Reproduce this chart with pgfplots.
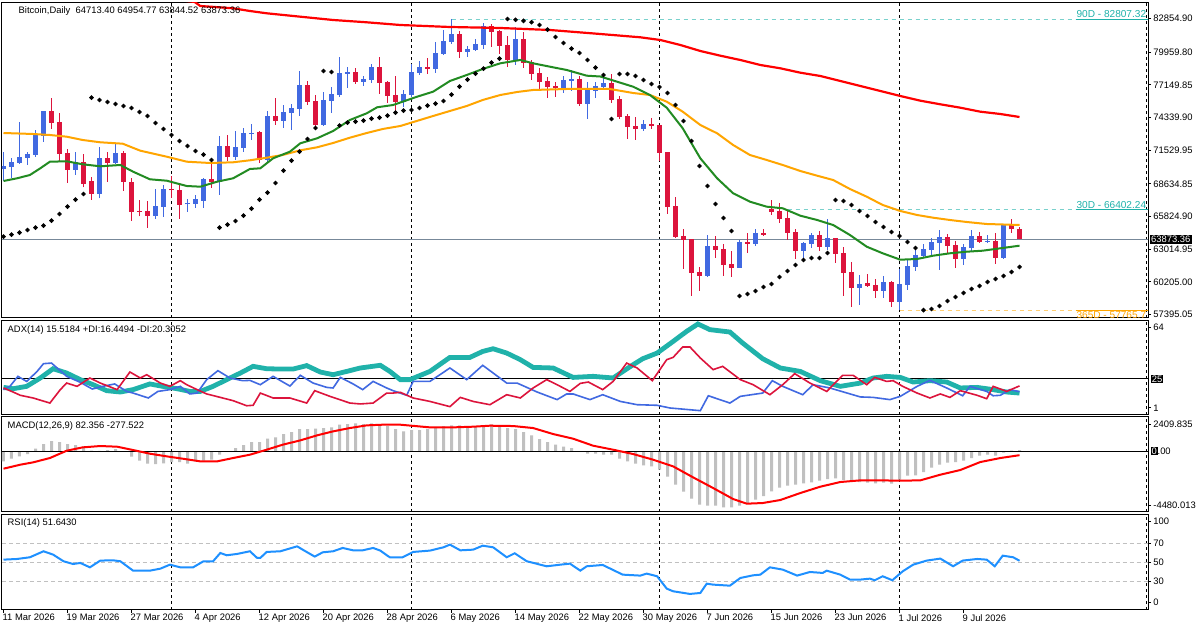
\documentclass[border=0pt]{standalone}
\usepackage{fontspec}
\setmainfont{Liberation Sans}
\usepackage{pgfplots}
\usepackage{pgfplotstable}
\pgfplotsset{compat=1.18}
\definecolor{bull}{HTML}{4169E1}
\definecolor{bear}{HTML}{DC143C}
\definecolor{maRed}{HTML}{FF0000}
\definecolor{maOrange}{HTML}{FFA500}
\definecolor{maGreen}{HTML}{228B22}
\definecolor{curline}{HTML}{778899}
\definecolor{adxc}{HTML}{20B2AA}
\definecolor{rsic}{HTML}{1E90FF}
\definecolor{histc}{HTML}{C0C0C0}
\definecolor{hilab}{HTML}{20B2AA}

\pgfplotstableread{
d O H L C t
0 69908 71399 68876 70166 1
1 70080 70825 69163 70510 1
2 70424 73979 70338 70940 1
3 70854 71399 70252 71227 1
4 71112 73233 70969 72832 1
5 72775 74896 72259 74896 1
6 74896 76043 73348 73893 0
7 73950 74753 70539 71227 0
8 71284 71628 68733 69851 0
9 69851 71399 69392 70510 1
10 70510 71169 68331 68618 0
11 68876 69220 67242 67787 0
12 67787 71800 67385 70854 1
13 70854 71399 68819 70424 0
14 70424 72087 70309 71284 1
15 71284 71485 68016 68819 0
16 68819 69163 65436 66210 0
17 66296 67242 65837 66210 0
18 66296 67156 64863 65895 0
19 65895 68188 65637 66755 1
20 66669 68532 65809 68188 1
21 68217 69306 67443 68073 0
22 68102 68618 65637 66812 0
23 66869 67328 66239 66955 1
24 66927 67672 66583 67328 1
25 67156 69163 66583 69077 1
26 69048 70367 68303 68819 0
27 68761 72746 67672 71886 1
28 71886 72832 70596 70940 0
29 70940 73176 70682 71800 1
30 71714 73405 71370 73004 1
31 72947 73778 72402 73004 1
32 73090 73176 70424 70682 0
33 70682 74896 70539 74466 1
34 74466 76014 73692 74036 0
35 74036 75412 73434 74810 1
36 74724 75498 73262 75154 1
37 75068 78336 74466 77132 1
38 77132 77476 75412 75670 0
39 75756 76272 73262 73692 0
40 73692 76501 73606 75842 1
41 75756 76960 74724 76358 1
42 76272 79540 76100 78164 1
43 78107 78680 76874 78250 1
44 78250 78594 77218 77390 0
45 77390 77906 77046 77648 1
46 77562 78938 77304 78680 1
47 78680 79540 76358 77304 0
48 77390 77476 75584 76186 0
49 76272 77906 74896 75670 0
50 75670 76702 75240 76358 1
51 76272 78938 76100 78250 1
52 78164 79196 77992 78680 1
53 78680 79454 78078 78537 0
54 78508 80830 78164 79884 1
55 79798 81862 79712 80916 1
56 80830 82807.32 80658 81518 1
57 81518 81776 79454 79970 0
58 79970 80486 79540 80228 1
59 80142 81088 80056 80658 1
60 80572 82464 80228 82206 1
61 82206 82378 80400 81690 0
62 81776 81862 79798 80486 0
63 80572 81346 78680 79282 0
64 79282 82120 78852 81088 1
65 81088 81690 78594 79024 0
66 79110 79282 77562 78078 0
67 78164 78594 76702 77390 0
68 77476 77820 76014 76960 0
69 77046 77390 76100 76874 0
70 76788 77906 76444 77562 1
71 77476 78422 76616 77648 1
72 77648 77906 75326 75498 0
73 75498 77390 74208 76702 1
74 76616 77390 76014 77046 1
75 76960 77820 76874 77304 1
76 77304 78078 75584 75842 0
77 75928 76186 74208 74380 0
78 74466 74638 72488 73520 0
79 73606 74380 72402 73348 0
80 73348 74122 73176 73778 1
81 73778 74294 73348 73606 0
82 73692 73692 70625 71313 0
83 71370 71370 66038 66640 0
84 66726 67500 63974 64060 0
85 64146 64748 61308 63802 0
86 63888 63888 58986 60964 0
87 61050 61480 59416 60706 0
88 60706 64232 60620 63286 1
89 63286 64146 62254 62942 0
90 63028 63458 60706 61652 0
91 61738 62856 60620 61394 0
92 61394 63802 61394 63630 1
93 63630 64404 62684 63458 0
94 63458 64748 63286 64404 1
95 64404 64748 64146 64232 0
96 66468 67242 65952 66210 0
97 66296 66984 65264 65608 0
98 65694 66402.24 63802 64404 0
99 64490 64748 62168 62856 0
100 62856 63630 62168 63544 1
101 63458 64404 63114 64232 1
102 64232 64576 62856 63200 0
103 63200 65608 62942 63974 1
104 63974 63974 61824 62598 0
105 62684 63200 58986 60964 0
106 61050 61910 58040 59674 0
107 59674 60792 58212 60018 1
108 60104 60878 59760 59846 0
109 59932 60448 58814 59416 0
110 59416 60706 58814 60190 1
111 60190 60276 58040 58470 0
112 58470 61308 57765.7 60018 1
113 59932 62082 59502 61566 1
114 61480 63286 61136 62512 1
115 62426 63458 62340 63028 1
116 62942 63974 62340 63630 1
117 63544 64662 61222 64060 1
118 64060 64318 62598 63286 0
119 63372 63716 61394 62168 0
120 62168 63458 61652 63200 1
121 63114 64662 62770 64146 1
122 64146 64490 63544 63630 0
123 63630 64232 63544 63716 1
124 63716 64404 61738 62254 0
125 62254 65092 62168 65092 1
126 65092 65608 64404 64713 0
127 64713.40 64954.77 63844.52 63873.36 0
}\candles

\pgfplotstableread{
d p
0 64088
1 64260
2 64432
3 64662
4 64862
5 65034
6 65464
7 66038
8 66668
9 67270
10 67758
11 76043
12 75842
13 75670
14 75498
15 75326
16 75154
17 74810
18 74466
19 73864
20 73348
21 72832
22 72316
23 71886
24 71456
25 71141
26 70682
27 64863
28 65121
29 65436
30 65895
31 66496
32 67270
33 67873
34 68704
35 69764
36 70625
37 71399
38 72488
39 73434
40 78336
41 78250
42 73650
43 73893
44 73979
45 74065
46 74237
47 74323
48 74495
49 74753
50 74925
51 74982
52 75154
53 75355
54 75527
55 75756
56 76301
57 76989
58 77591
59 78107
60 78537
61 79053
62 79397
63 82807
64 82740
65 82650
66 82530
67 82292
68 81891
69 81260
70 80744
71 80257
72 79884
73 79282
74 78623
75 77992
76 74208
77 78078
78 78078
79 77906
80 77562
81 77218
82 76960
83 76444
84 75412
85 74036
86 72316
87 70166
88 68446
89 66898
90 65694
91 64576
92 58986
93 59158
94 59416
95 59760
96 60018
97 60620
98 61136
99 61652
100 62082
101 62254
102 62254
103 62684
104 67242
105 67156
106 66812
107 66296
108 65866
109 65350
110 64920
111 64490
112 64146
113 63630
114 63114
115 57766
116 57868
117 58126
118 58556
119 58900
120 59244
121 59588
122 59846
123 60190
124 60448
125 60706
126 61050
127 61480
}\sar

\pgfplotstableread{
d p
20 84600
23.9 84270
24.6 83926
28.7 83728
30.8 83496
32.9 83298
37.1 83006
41.2 82722
45.4 82524
49.6 82292
55.8 82120
62.1 82034
68.3 81862
74.6 81518
79.6 81234
82.1 81002
84.6 80572
87.1 80056
89.6 79652
92.1 79282
94.6 78852
97.1 78568
99.6 78190
102.1 77906
104.6 77476
107.1 77046
109.6 76616
112.1 76186
114.6 75782
117.1 75472
119.6 75180
122.1 74836
124.6 74638
127 74380
}\mared

\pgfplotstableread{
d p
0 73004
3.7 72918
5.8 72832
7.9 72686
9.9 72402
12.1 72204
14.9 72084
17.1 71482
20.4 70966
22.9 70536
25.8 70424
28.7 70484
30.8 70656
32.9 70880
34.9 71112
37.1 71516
39.2 71774
41.2 72144
43.3 72600
45.4 73004
47.4 73348
49.6 73606
53.7 74466
55.8 74896
57.9 75326
59.9 75842
62.1 76272
64.2 76530
66.2 76702
70.4 76788
75.8 76788
78.7 76444
80.8 76272
82.9 75696
84.9 74836
87.1 73692
89.2 72978
91.2 71972
93.3 71112
95.4 70682
97.4 70252
99.6 69736
101.7 69332
103.7 68962
105.8 68188
107.9 67526
109.9 66812
112.1 66296
114.2 65952
116.2 65720
118.3 65522
120.4 65350
122.9 65178
127 65092
}\maorange

\pgfplotstableread{
d p
0 68876
1.7 69108
3.3 69392
4.6 69968
5.8 70536
7.9 70570
9.9 70312
12.1 70140
14.6 70252
16.2 69676
18.3 69022
20.4 68902
22.9 68446
24.6 68386
26.7 68816
28.7 69108
30.8 69908
32.1 69968
33.7 70828
35.8 71396
37.1 72118
39.2 72548
41.2 73176
43.3 74122
45.4 74698
46.7 75214
48.7 75412
51.7 76126
53.7 76556
55.8 77476
57.9 77992
59.9 78508
62.1 78998
64.6 79282
66.2 78998
68.3 78706
70.4 78422
72.9 77932
74.6 77863
78.7 76986
80.8 76272
82.9 75180
84.9 73408
87.1 70828
89.2 69108
91.2 67818
93.3 67096
95.4 66666
97.4 66528
99.6 65892
101.7 65522
103.7 65092
105.8 64232
107.9 63226
109.9 62658
112.1 62108
114.2 62168
116.2 62452
118.3 62658
120.4 62796
122.4 62882
124.6 63088
127 63312
}\magreen

\pgfplotstableread{
d v
0 19.3
1.2 18.4
2.9 20.0
4.6 25.6
6.2 31.8
7.9 28.9
9.6 24.5
11.2 21.1
12.9 17.1
14.6 16.2
16.2 17.8
18.3 21.6
19.9 20.0
21.7 18.4
23.3 16.6
24.6 16.6
26.2 20.0
27.9 24.5
29.6 28.9
31.2 33.4
32.9 31.8
34.6 31.6
36.2 31.6
37.9 33.9
39.6 29.6
41.2 27.8
42.9 30.0
44.6 32.3
47.1 34.1
48.3 30.0
49.6 24.5
50.8 24.5
53.3 30.0
55.8 39.4
58.3 39.4
59.9 43.4
61.2 45.2
62.9 42.3
64.6 37.9
66.2 32.7
68.7 32.3
71.2 26.0
73.7 26.7
76.2 25.6
78.7 34.5
79.9 38.5
81.7 42.3
83.7 50.1
85.4 56.9
86.8 61.8
88.3 58.0
90.8 56.4
92.4 49.0
94.9 38.5
97.1 32.3
99.6 30.0
102.1 23.8
104.6 20.0
107.1 22.2
108.7 25.6
110.4 26.7
112.1 26.0
113.7 22.9
115.8 23.8
117.9 22.9
119.6 18.9
121.7 19.3
123.7 17.8
125.4 16.2
127 15.5
}\adx

\pgfplotstableread{
d v
0 17.8
0.8 20.0
1.8 26.7
2.9 23.3
4.2 30.0
5.0 35.2
6.0 35.6
7.9 26.7
9.6 22.7
11.1 18.2
12.4 20.0
13.9 21.6
15.4 16.6
16.2 15.5
18.1 12.2
19.3 16.6
20.8 17.8
22.1 20.0
23.3 14.9
24.2 15.5
25.4 24.5
26.8 30.5
28.3 25.6
29.9 23.8
30.8 24.0
32.1 21.1
33.7 26.7
35.8 20.2
37.1 27.4
38.7 22.2
40.4 19.3
41.2 18.9
42.1 26.0
43.7 21.6
44.9 17.8
46.2 23.3
47.9 18.9
48.7 17.1
50.4 14.0
51.2 23.3
53.3 23.3
55.8 32.3
57.9 24.5
59.9 34.1
62.9 22.2
64.2 22.2
66.7 16.2
69.2 11.1
70.4 14.9
71.2 14.9
73.3 11.1
74.9 14.4
77.1 9.9
79.2 7.7
81.7 7.3
83.3 5.5
87.1 3.7
88.1 13.7
90.8 8.8
92.1 13.3
94.9 15.5
96.1 23.8
97.4 20.0
99.9 14.4
101.2 21.1
103.3 18.9
107.1 12.9
108.7 12.6
110.8 11.1
112.1 13.3
114.2 20.0
115.8 24.0
117.9 18.9
119.9 13.7
120.8 20.0
122.9 16.6
123.7 13.7
124.6 14.0
125.8 17.8
127 16.4
}\pdi

\pgfplotstableread{
d v
0 18.9
1.2 16.2
2.1 14.0
3.7 12.2
5.8 8.8
7.1 17.8
7.9 22.2
9.2 20.0
10.8 25.6
12.1 22.2
14.2 17.8
15.8 29.6
17.1 25.6
17.9 27.8
19.6 22.2
20.8 20.0
22.1 23.8
22.9 21.1
24.2 17.8
25.4 14.9
27.1 12.6
28.7 10.4
30.4 7.0
31.2 7.3
32.1 15.5
33.7 12.2
35.8 12.2
37.9 8.8
38.9 17.1
40.8 13.3
43.3 8.8
44.6 8.2
46.2 8.8
47.9 15.5
48.7 15.5
49.6 16.0
51.2 12.2
53.3 9.9
55.8 6.4
57.1 12.6
58.7 9.9
60.8 7.7
62.9 14.4
64.6 12.2
66.2 18.9
67.9 24.5
69.2 21.1
70.8 16.6
72.1 22.0
73.1 22.9
74.9 17.8
76.2 23.3
77.9 35.6
79.2 32.3
81.1 23.8
82.9 37.9
83.7 39.4
84.9 46.4
85.8 46.4
87.1 39.0
88.7 31.2
89.9 33.4
92.1 24.5
93.7 21.1
95.8 14.4
97.4 21.1
98.9 28.5
100.8 22.2
102.9 16.6
104.9 27.4
106.2 27.4
107.9 21.1
108.9 26.0
110.4 23.3
111.2 23.8
112.4 20.0
114.2 15.5
115.8 12.2
117.1 14.9
118.3 12.6
119.6 17.1
121.7 14.0
122.9 11.7
123.7 20.0
125.4 16.6
127 20.3
}\mdi

\pgfplotstableread{
d v
0 -726
1 -532
2 -363
3 -194
4 194
5 532
6 750
7 678
8 532
9 460
10 363
11 60
12 30
13 97
14 169
15 -40
16 -387
17 -678
18 -895
19 -920
20 -871
21 -774
22 -774
23 -895
24 -726
25 -678
26 -605
27 -242
28 -20
29 242
30 460
31 678
32 678
33 920
34 1016
35 1258
36 1404
37 1621
38 1621
39 1646
40 1694
41 1742
42 1936
43 1984
44 2033
45 1984
46 2033
47 1936
48 1839
49 1621
50 1452
51 1549
52 1549
53 1621
54 1694
55 1839
56 1888
57 1888
58 1815
59 1815
60 1888
61 1960
62 1839
63 1694
64 1621
65 1404
66 1162
67 895
68 678
69 484
70 339
71 242
72 20
73 -169
74 -169
75 -242
76 -242
77 -532
78 -726
79 -895
80 -1016
81 -1089
82 -1331
83 -1839
84 -2420
85 -2928
86 -3436
87 -3872
88 -3945
89 -3945
90 -4066
91 -4066
92 -3945
93 -3751
94 -3509
95 -3243
96 -2904
97 -2638
98 -2493
99 -2420
100 -2323
101 -2251
102 -2130
103 -2009
104 -1960
105 -2081
106 -2178
107 -2226
108 -2275
109 -2323
110 -2275
111 -2347
112 -2057
113 -1767
114 -1742
115 -1500
116 -1186
117 -968
118 -823
119 -774
120 -678
121 -484
122 -315
123 -242
124 -315
125 -97
126 48
127 82.356
}\macdh

\pgfplotstableread{
d v
0 -1258
2.1 -968
3.7 -799
5.8 -484
7.9 48
9.9 290
12.1 387
14.2 339
16.2 97
18.3 -169
20.4 -363
22.4 -532
24.6 -726
26.7 -726
28.7 -484
30.8 -242
32.9 121
34.9 484
37.1 799
39.2 1162
41.2 1452
43.3 1694
45.4 1888
47.4 1936
49.6 1936
53.3 1742
56.2 1742
58.7 1791
60.8 1863
63.7 1839
66.2 1694
68.7 1258
71.2 920
73.7 411
76.2 121
78.7 -194
81.2 -605
83.7 -1089
86.2 -1888
88.7 -2662
91.2 -3461
92.9 -3799
94.9 -3751
97.1 -3533
99.6 -3025
102.1 -2565
104.6 -2226
107.1 -2105
109.6 -2105
112.1 -2130
114.6 -2105
117.1 -1694
119.6 -1355
122.1 -774
124.6 -484
127 -277.522
}\macds

\pgfplotstableread{
d v
0 52.8
1.7 53.5
3.3 55.3
5.0 61.6
6.2 58.1
7.5 51.1
8.7 48.2
9.6 49.3
10.8 44.7
12.1 51.8
13.7 52.1
14.6 51.1
16.2 41.2
18.3 41.2
19.6 43.3
20.8 47.5
22.1 44.7
23.7 44.7
25.0 51.1
26.2 51.1
27.1 59.8
27.9 57.4
29.2 58.8
30.8 61.6
31.7 54.6
32.1 54.6
32.9 60.9
34.6 61.6
36.7 66.8
37.4 63.3
38.9 56.0
39.9 60.5
41.2 61.6
42.4 65.1
43.7 62.6
44.9 62.6
46.2 65.1
47.1 62.3
48.1 56.3
48.3 55.3
49.9 55.3
51.2 60.9
53.3 62.3
55.0 65.8
55.8 68.6
57.1 62.6
58.7 63.3
59.9 67.5
61.2 65.8
62.9 55.3
63.9 59.5
65.4 51.1
67.9 45.8
69.6 47.5
70.8 48.6
72.1 41.2
72.9 45.8
74.9 47.2
77.4 37.0
79.6 36.0
80.4 38.1
81.7 35.3
82.9 22.3
83.7 19.5
85.8 16.7
87.1 17.7
87.9 27.5
88.7 26.5
90.8 25.4
92.1 33.5
93.7 36.3
94.6 37.0
95.8 44.7
97.4 42.3
99.2 36.0
100.8 39.8
102.4 38.8
102.9 41.2
104.6 37.0
105.8 31.8
107.1 31.8
108.3 32.8
108.9 31.1
109.9 35.3
111.1 31.1
112.4 40.5
113.7 47.5
115.4 51.8
117.1 53.9
118.7 45.8
119.9 51.8
121.7 53.5
122.9 52.8
123.9 45.8
124.9 57.0
126.2 55.3
127 51.643
}\rsi

\pgfplotsset{
  panel/.style={
    scale only axis, width=573pt,
    xmin=-0.1875, xmax=143.06,
    anchor=north west,
    clip mode=individual,
    axis line style={line width=0.5pt, black},
    xtick=\empty,
    ytick pos=right, yticklabel pos=right,
    tick align=outside, major tick length=1.5pt,
    tick style={black, line width=0.5pt},
    every tick label/.append style={font=\fontsize{4.7pt}{5.5pt}\selectfont, text=black},
    yticklabel style={anchor=west, inner sep=0pt, xshift=1pt},
    /pgf/number format/assume math mode=true,
    extra x ticks={21,51,82,112,142.85},
    extra x tick labels={},
    extra x tick style={grid=major, major tick length=0pt,
      major grid style={black, line width=0.5pt, dash pattern=on 1.5pt off 1.5pt}},
  },
}

\begin{document}
\fontsize{4.7pt}{5.5pt}\selectfont
\begin{tikzpicture}
\useasboundingbox[fill=white] (0,0) rectangle (600pt,-315pt);

% ---------------- main price panel ----------------
\begin{axis}[panel, at={(1pt,-1.5pt)}, height=157.5pt, ymin=57094, ymax=84184,
  ytick={82854.90,79959.80,77149.85,74339.90,71529.95,68634.85,65824.90,63014.95,60205.00,57395.05},
  yticklabels={82854.90,79959.80,77149.85,74339.90,71529.95,68634.85,65824.90,63014.95,60205.00,57395.05}]
\addplot[curline, line width=0.5pt] coordinates {(-1,63873.36) (145,63873.36)};
\addplot[hilab!60, line width=0.5pt, dash pattern=on 2pt off 2pt] coordinates {(56,82807.32) (134,82807.32)};
\addplot[hilab, line width=0.5pt] coordinates {(134,82807.32) (145,82807.32)};
\addplot[hilab!60, line width=0.5pt, dash pattern=on 2pt off 2pt] coordinates {(98,66402.24) (134,66402.24)};
\addplot[hilab, line width=0.5pt] coordinates {(134,66402.24) (145,66402.24)};
\addplot[maOrange!55, line width=0.5pt, dash pattern=on 2pt off 2pt] coordinates {(112,57765.7) (134,57765.7)};
\addplot[maOrange, line width=0.5pt] coordinates {(134,57765.7) (145,57765.7)};
% wicks
\addplot[draw=none, mark=none, restrict expr to domain={\thisrow{t}}{1:1},
  error bars/.cd, y dir=plus, y explicit, error mark=none,
  error bar style={draw=bull, line width=0.5pt}]
  table[x=d, y=L, y error plus expr={\thisrow{H}-\thisrow{L}}] {\candles};
\addplot[draw=none, mark=none, restrict expr to domain={\thisrow{t}}{0:0},
  error bars/.cd, y dir=plus, y explicit, error mark=none,
  error bar style={draw=bear, line width=0.5pt}]
  table[x=d, y=L, y error plus expr={\thisrow{H}-\thisrow{L}}] {\candles};
% bodies
\addplot[draw=none, mark=none, restrict expr to domain={\thisrow{t}}{1:1},
  error bars/.cd, y dir=plus, y explicit, error mark=none,
  error bar style={draw=bull, line width=2.5pt}]
  table[x=d, y=O, y error plus expr={max(\thisrow{C}-\thisrow{O},86)}] {\candles};
\addplot[draw=none, mark=none, restrict expr to domain={\thisrow{t}}{0:0},
  error bars/.cd, y dir=plus, y explicit, error mark=none,
  error bar style={draw=bear, line width=2.5pt}]
  table[x=d, y=C, y error plus expr={max(\thisrow{O}-\thisrow{C},86)}] {\candles};
% moving averages
\addplot[maRed, line width=1.1pt] table[x=d, y=p] {\mared};
\addplot[maOrange, line width=1pt] table[x=d, y=p] {\maorange};
\addplot[maGreen, line width=1pt] table[x=d, y=p] {\magreen};
% parabolic SAR
\addplot[only marks, mark=*, mark size=0.95pt, black] table[x=d, y=p] {\sar};
\node[anchor=south west, inner sep=0.3pt, text=hilab, font=\fontsize{5.05pt}{6pt}\selectfont] at (axis cs:134,82807.32) {90D - 82807.32};
\node[anchor=south west, inner sep=0.3pt, text=hilab, font=\fontsize{5.05pt}{6pt}\selectfont] at (axis cs:134,66402.24) {30D - 66402.24};
\begin{scope}
\clip (rel axis cs:0,0) rectangle (rel axis cs:1,1);
\node[anchor=north west, inner sep=0.3pt, text=maOrange, font=\fontsize{5.05pt}{6pt}\selectfont] at (axis cs:134,57765.7) {365D - 57765.7};
\end{scope}
\node[anchor=west, fill=black, text=white, inner sep=0.6pt, xshift=0.8pt] at (axis cs:143.06,63873.36) {63873.36};
\end{axis}

% ---------------- ADX panel ----------------
\begin{axis}[panel, at={(1pt,-160.35pt)}, height=47pt, ymin=1, ymax=64,
  ytick={59.6,5.5}, yticklabels={64,1}]
\addplot[black, line width=0.5pt] coordinates {(-1,25) (145,25)};
\addplot[adxc, line width=2.4pt] table[x=d, y=v] {\adx};
\addplot[bull, line width=0.8pt] table[x=d, y=v] {\pdi};
\addplot[bear, line width=0.8pt] table[x=d, y=v] {\mdi};
\node[anchor=west, fill=black, text=white, inner sep=0.5pt, xshift=1.2pt] at (axis cs:143.06,25) {25};
\end{axis}

% ---------------- MACD panel ----------------
\begin{axis}[panel, at={(1pt,-208.35pt)}, height=47.5pt, ymin=-4380, ymax=2517,
  ytick={1934,-3918}, yticklabels={2409.835,-4480.013}]
\addplot[ybar, bar width=1.5pt, fill=histc, draw=none] table[x=d, y=v] {\macdh};
\addplot[black, line width=0.5pt] coordinates {(-1,0) (145,0)};
\addplot[maRed, line width=1pt] table[x=d, y=v] {\macds};
\node[anchor=west, inner sep=0pt, xshift=1.2pt] at (axis cs:143.06,0) {\setlength{\fboxsep}{0.4pt}\colorbox{black}{\textcolor{white}{0}}.00};
\end{axis}

% ---------------- RSI panel ----------------
\begin{axis}[panel, at={(1pt,-257.4pt)}, height=47.5pt, ymin=0, ymax=100,
  ytick={93.2,70,50,30,7.9}, yticklabels={100,70,50,30,0},
  xtick={0,8,...,120}, xtick pos=left,
  xticklabels={11 Mar 2026,19 Mar 2026,27 Mar 2026,4 Apr 2026,12 Apr 2026,20 Apr 2026,28 Apr 2026,6 May 2026,14 May 2026,22 May 2026,30 May 2026,7 Jun 2026,15 Jun 2026,23 Jun 2026,1 Jul 2026,9 Jul 2026},
  xticklabel style={anchor=north west, inner sep=0pt, yshift=-0.5pt, xshift=-0.6pt}]
\addplot[histc, line width=0.5pt, dash pattern=on 2pt off 1.5pt] coordinates {(-1,70) (145,70)};
\addplot[histc, line width=0.5pt, dash pattern=on 2pt off 1.5pt] coordinates {(-1,50) (145,50)};
\addplot[histc, line width=0.5pt, dash pattern=on 2pt off 1.5pt] coordinates {(-1,30) (145,30)};
\addplot[rsic, line width=1pt] table[x=d, y=v] {\rsi};
\end{axis}

% ---------------- titles ----------------
\node[anchor=west, inner sep=0pt] at (9.15pt,-5.75pt) {Bitcoin,Daily\ \ 64713.40 64954.77 63844.52 63873.36};
\node[anchor=west, inner sep=0pt] at (3.65pt,-164.85pt) {ADX(14) 15.5184 +DI:16.4494 -DI:20.3052};
\node[anchor=west, inner sep=0pt] at (3.65pt,-213.15pt) {MACD(12,26,9) 82.356 -277.522};
\node[anchor=west, inner sep=0pt] at (3.65pt,-261.5pt) {RSI(14) 51.6430};
\end{tikzpicture}
\end{document}
